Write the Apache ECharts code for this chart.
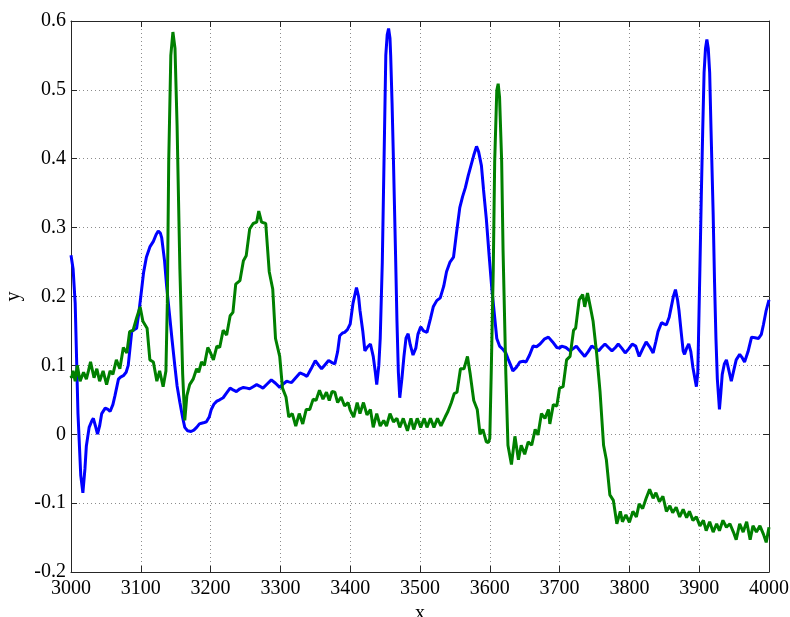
<!DOCTYPE html>
<html>
<head>
<meta charset="utf-8">
<script src="https://cdn.jsdelivr.net/npm/echarts@6/dist/echarts.min.js"></script>
<style>
html,body{margin:0;padding:0;background:#fff;}
#chart{width:790px;height:617px;}
</style>
</head>
<body>
<div id="chart"></div>
<script>
// ---- data ----
var xTicks = [3000,3100,3200,3300,3400,3500,3600,3700,3800,3900,4000];
var yTicks = [-0.2,-0.1,0,0.1,0.2,0.3,0.4,0.5,0.6];

var blueX = [3000,3003,3006,3010,3014,3017,3020,3022,3026,3030,3032,3035,3038,3041,3044,3049,3053,3056,3060,3063,3068,3071,3075,3079,3082,3087,3091,3094,3097,3100,3104,3108,3113,3118,3122,3125,3128,3130,3134,3137,3141,3145,3149,3152,3156,3160,3163,3167,3172,3176,3180,3184,3187,3191,3194,3198,3201,3205,3209,3213,3218,3223,3228,3233,3237,3242,3247,3252,3256,3261,3266,3270,3275,3281,3287,3293,3299,3304,3309,3312,3316,3322,3328,3333,3338,3344,3350,3355,3359,3364,3369,3374,3378,3382,3385,3389,3392,3396,3400,3404,3409,3412,3414,3418,3421,3425,3429,3433,3436,3438,3441,3443,3446,3448,3451,3453,3455,3457,3458,3460,3462,3465,3467,3469,3471,3474,3477,3480,3483,3486,3490,3494,3497,3501,3505,3510,3515,3519,3524,3529,3534,3538,3543,3548,3552,3557,3561,3565,3569,3573,3577,3581,3584,3588,3591,3595,3599,3603,3606,3610,3614,3619,3623,3626,3630,3633,3638,3643,3648,3652,3657,3662,3667,3672,3678,3684,3690,3696,3700,3703,3709,3715,3719,3724,3730,3736,3741,3746,3751,3756,3760,3765,3770,3775,3780,3784,3789,3794,3799,3804,3809,3814,3819,3824,3829,3834,3838,3841,3846,3850,3853,3857,3860,3863,3866,3869,3871,3874,3877,3879,3882,3885,3888,3891,3894,3896,3898,3899,3901,3903,3905,3907,3909,3911,3913,3915,3917,3920,3922,3924,3926,3929,3931,3933,3936,3939,3942,3946,3950,3953,3958,3961,3965,3970,3975,3980,3985,3989,3992,3996,4000];
var blueY = [0.26,0.24,0.19,0.03,-0.06,-0.085,-0.05,-0.017,0.01,0.02,0.023,0.012,0.0,0.012,0.03,0.038,0.036,0.033,0.043,0.056,0.08,0.083,0.085,0.09,0.1,0.149,0.152,0.154,0.175,0.2,0.235,0.257,0.272,0.28,0.29,0.295,0.292,0.285,0.252,0.215,0.175,0.135,0.097,0.07,0.046,0.024,0.01,0.005,0.004,0.006,0.01,0.015,0.016,0.017,0.018,0.025,0.036,0.044,0.048,0.05,0.053,0.06,0.067,0.064,0.062,0.066,0.068,0.067,0.066,0.069,0.072,0.07,0.067,0.073,0.079,0.074,0.068,0.073,0.077,0.076,0.075,0.082,0.089,0.087,0.084,0.095,0.107,0.1,0.095,0.101,0.107,0.104,0.102,0.12,0.143,0.147,0.148,0.152,0.16,0.19,0.213,0.2,0.18,0.15,0.121,0.127,0.131,0.113,0.09,0.072,0.1,0.139,0.25,0.37,0.55,0.58,0.589,0.575,0.55,0.48,0.396,0.26,0.164,0.09,0.053,0.08,0.113,0.14,0.146,0.13,0.115,0.125,0.145,0.156,0.15,0.148,0.168,0.185,0.194,0.198,0.215,0.236,0.25,0.257,0.29,0.329,0.345,0.358,0.375,0.39,0.405,0.418,0.41,0.39,0.355,0.313,0.26,0.21,0.18,0.139,0.128,0.123,0.118,0.11,0.1,0.092,0.097,0.105,0.106,0.105,0.115,0.128,0.127,0.131,0.138,0.141,0.134,0.126,0.125,0.128,0.126,0.121,0.124,0.128,0.12,0.113,0.12,0.128,0.125,0.121,0.126,0.131,0.126,0.121,0.126,0.131,0.125,0.118,0.124,0.131,0.128,0.113,0.124,0.134,0.127,0.118,0.135,0.149,0.162,0.16,0.159,0.17,0.185,0.2,0.21,0.195,0.18,0.15,0.121,0.116,0.125,0.131,0.12,0.097,0.08,0.069,0.09,0.139,0.24,0.345,0.44,0.525,0.56,0.573,0.56,0.525,0.44,0.32,0.22,0.139,0.08,0.036,0.06,0.087,0.102,0.108,0.095,0.077,0.095,0.108,0.116,0.112,0.105,0.12,0.141,0.14,0.139,0.145,0.159,0.18,0.195];

var greenX = [3000,3001,3003,3006,3009,3013,3018,3022,3025,3028,3033,3037,3041,3046,3051,3056,3060,3065,3070,3075,3080,3084,3089,3094,3099,3103,3109,3113,3118,3123,3127,3132,3136,3138,3140,3143,3146,3149,3152,3156,3160,3163,3166,3170,3175,3180,3183,3187,3191,3196,3200,3204,3209,3213,3218,3223,3228,3232,3236,3242,3247,3251,3256,3261,3266,3269,3273,3279,3284,3289,3293,3299,3303,3308,3312,3317,3322,3327,3332,3337,3342,3347,3351,3356,3361,3366,3370,3374,3378,3382,3387,3392,3397,3400,3405,3410,3414,3419,3424,3429,3433,3438,3443,3448,3452,3457,3462,3467,3471,3476,3482,3487,3491,3496,3501,3506,3510,3515,3520,3525,3530,3536,3540,3545,3549,3553,3558,3563,3568,3572,3577,3582,3586,3590,3595,3598,3600,3602,3605,3607,3610,3612,3614,3617,3619,3623,3626,3631,3636,3641,3645,3650,3655,3660,3665,3669,3674,3679,3684,3686,3691,3696,3700,3705,3710,3715,3720,3723,3728,3733,3736,3740,3744,3748,3753,3758,3763,3767,3772,3777,3782,3787,3790,3795,3800,3805,3810,3814,3819,3824,3829,3834,3838,3843,3848,3853,3858,3862,3867,3872,3877,3882,3886,3891,3896,3901,3906,3910,3915,3920,3925,3929,3934,3939,3944,3949,3953,3958,3963,3968,3973,3977,3982,3987,3992,3996,4000];
var greenY = [0.085,0.082,0.092,0.077,0.1,0.077,0.09,0.08,0.092,0.105,0.082,0.095,0.077,0.092,0.072,0.092,0.087,0.108,0.095,0.126,0.118,0.149,0.151,0.169,0.185,0.164,0.154,0.108,0.105,0.077,0.092,0.069,0.092,0.19,0.396,0.55,0.584,0.56,0.447,0.24,0.087,0.02,0.056,0.072,0.08,0.095,0.09,0.105,0.1,0.126,0.118,0.108,0.128,0.126,0.151,0.144,0.172,0.177,0.218,0.223,0.252,0.259,0.298,0.306,0.308,0.324,0.308,0.306,0.236,0.211,0.139,0.113,0.067,0.054,0.025,0.03,0.012,0.03,0.015,0.036,0.036,0.051,0.049,0.064,0.051,0.061,0.049,0.062,0.061,0.046,0.054,0.041,0.046,0.035,0.025,0.046,0.03,0.046,0.028,0.036,0.01,0.03,0.012,0.02,0.012,0.03,0.018,0.023,0.01,0.023,0.005,0.023,0.007,0.023,0.01,0.023,0.01,0.023,0.01,0.023,0.012,0.025,0.033,0.046,0.059,0.061,0.095,0.095,0.113,0.087,0.049,0.036,0.0,0.007,-0.011,-0.012,-0.006,0.087,0.241,0.396,0.499,0.509,0.489,0.396,0.267,0.087,-0.016,-0.044,-0.003,-0.037,-0.016,-0.029,-0.011,-0.016,0.007,-0.001,0.03,0.023,0.036,0.015,0.043,0.041,0.067,0.069,0.108,0.113,0.151,0.154,0.195,0.203,0.185,0.205,0.185,0.164,0.118,0.061,-0.016,-0.037,-0.088,-0.096,-0.13,-0.112,-0.127,-0.117,-0.128,-0.112,-0.12,-0.101,-0.108,-0.093,-0.08,-0.093,-0.085,-0.098,-0.09,-0.112,-0.104,-0.114,-0.106,-0.12,-0.109,-0.121,-0.112,-0.125,-0.12,-0.133,-0.125,-0.14,-0.127,-0.142,-0.13,-0.14,-0.125,-0.135,-0.13,-0.142,-0.153,-0.13,-0.142,-0.127,-0.153,-0.133,-0.142,-0.133,-0.145,-0.157,-0.135];

var xName = 'x';
var yName = 'y';

function pairs(xs, ys){ return xs.map(function(x,i){ return [x, ys[i]]; }); }

var FONT = 'Liberation Serif';
var AXC = '#262626';
var chart = echarts.init(document.getElementById('chart'), null, {renderer:'canvas'});

function fmtY(v){ var r = Math.round(v*10)/10; return r === 0 ? '0' : r.toFixed(1); }

var option = {
  animation: false,
  backgroundColor: '#ffffff',
  grid: {left:71, right:21, top:21, bottom:45, containLabel:false, outerBoundsMode:'none'},
  xAxis: [{
    type:'value', min:xTicks[0], max:xTicks[xTicks.length-1], interval:100,
    name:xName, nameLocation:'middle', nameGap:25,
    nameTextStyle:{fontFamily:FONT, fontSize:20, color:'#000'},
    axisLine:{show:true, onZero:false, lineStyle:{color:AXC, width:1}},
    axisTick:{show:true, inside:true, length:6, lineStyle:{color:AXC}},
    axisLabel:{margin:7, fontFamily:FONT, fontSize:20, color:'#000', hideOverlap:false, formatter:function(v){return String(v);}},
    splitLine:{show:true, lineStyle:{color:'#8c8c8c', type:[1,3], width:1}}
  },{
    type:'value', position:'top', min:xTicks[0], max:xTicks[xTicks.length-1], interval:100,
    axisLine:{show:true, onZero:false, lineStyle:{color:AXC, width:1}},
    axisTick:{show:true, inside:true, length:6, lineStyle:{color:AXC}},
    axisLabel:{show:false}, splitLine:{show:false}
  }],
  yAxis: [{
    type:'value', min:yTicks[0], max:yTicks[yTicks.length-1], interval:0.1,
    name:yName, nameLocation:'middle', nameGap:46, nameRotate:90,
    nameTextStyle:{fontFamily:FONT, fontSize:20, color:'#000'},
    axisLine:{show:true, onZero:false, lineStyle:{color:AXC, width:1}},
    axisTick:{show:true, inside:true, length:6, lineStyle:{color:AXC}},
    axisLabel:{margin:5, fontFamily:FONT, fontSize:20, color:'#000', hideOverlap:false, formatter:fmtY},
    splitLine:{show:true, lineStyle:{color:'#8c8c8c', type:[1,3], width:1}}
  },{
    type:'value', position:'right', min:yTicks[0], max:yTicks[yTicks.length-1], interval:0.1,
    axisLine:{show:true, onZero:false, lineStyle:{color:AXC, width:1}},
    axisTick:{show:true, inside:true, length:6, lineStyle:{color:AXC}},
    axisLabel:{show:false}, splitLine:{show:false}
  }],
  series: [{
    type:'line', xAxisIndex:0, yAxisIndex:0, data:pairs(blueX, blueY),
    showSymbol:false, symbol:'none', smooth:false,
    lineStyle:{color:'#0000ff', width:3}, itemStyle:{color:'#0000ff'}
  },{
    type:'line', xAxisIndex:0, yAxisIndex:0, data:pairs(greenX, greenY),
    showSymbol:false, symbol:'none', smooth:false,
    lineStyle:{color:'#008000', width:3}, itemStyle:{color:'#008000'}
  }]
};
chart.setOption(option);
</script>
</body>
</html>
